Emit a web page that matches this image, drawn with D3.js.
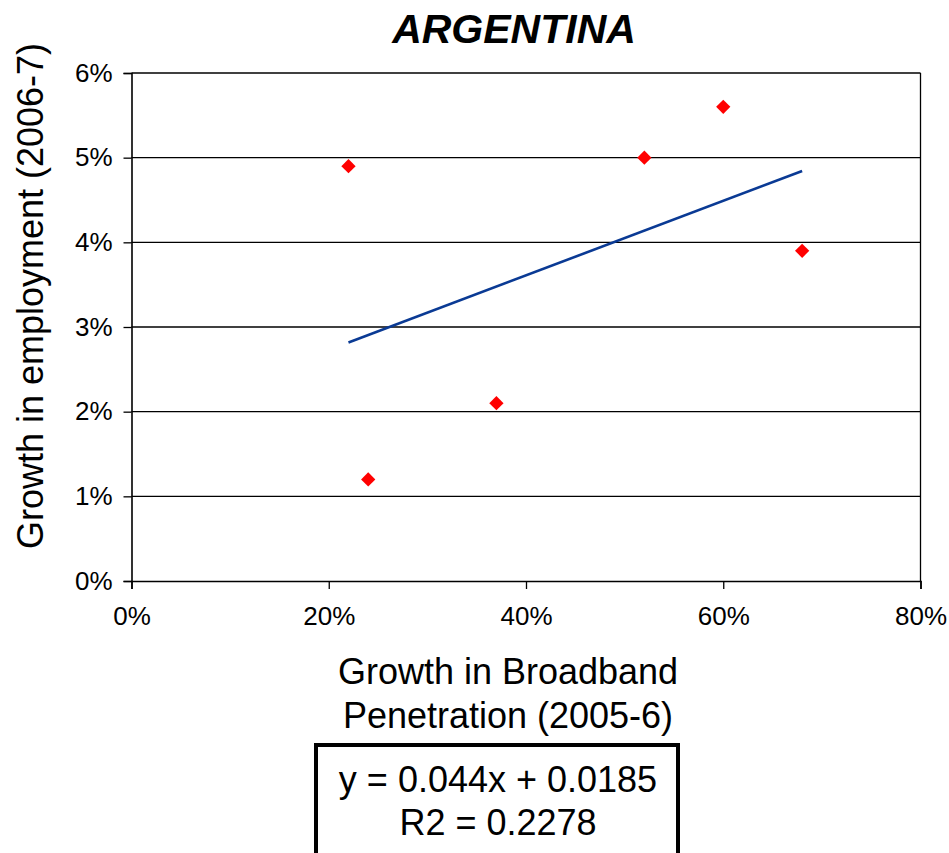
<!DOCTYPE html>
<html><head><meta charset="utf-8">
<script src="https://cdn.jsdelivr.net/npm/d3@7"></script>
<style>
html,body{margin:0;padding:0;background:#fff;}
svg{display:block;font-family:"Liberation Sans",Arial,sans-serif;}
</style></head>
<body>
<svg id="c" width="949" height="853"></svg>
<script>
const title = "ARGENTINA";
const xLabelLines = ["Growth in Broadband", "Penetration (2005-6)"];
const yLabel = "Growth in employment (2006-7)";
const broadband = [0.22, 0.24, 0.37, 0.52, 0.60, 0.68];
const employment = [0.049, 0.012, 0.021, 0.050, 0.056, 0.039];
const xTicks = [0, 0.2, 0.4, 0.6, 0.8];
const yTicks = [0, 0.01, 0.02, 0.03, 0.04, 0.05, 0.06];
const slope = 0.044, intercept = 0.0185;
const eqLines = ["y = 0.044x + 0.0185", "R2 = 0.2278"];

const svg = d3.select("#c");
const L = 131.5, R = 920.5, T = 73, B = 581;
const x = d3.scaleLinear().domain([0, 0.8]).range([L, R]);
const y = d3.scaleLinear().domain([0, 0.06]).range([B, T]);
const pct = d3.format(".0%");

// gridlines
svg.append("g").selectAll("line").data(yTicks.slice(1)).join("line")
  .attr("x1", L).attr("x2", R).attr("y1", d => y(d)).attr("y2", d => y(d))
  .attr("stroke", "#000").attr("stroke-width", 1.3);
// right border
svg.append("line").attr("x1", R).attr("x2", R).attr("y1", T).attr("y2", B)
  .attr("stroke", "#000").attr("stroke-width", 1.3);

// axes
const xAxis = svg.append("g").attr("transform", `translate(0,${B})`)
  .call(d3.axisBottom(x).tickValues(xTicks).tickFormat(pct).tickSize(8).tickPadding(18));
const yAxis = svg.append("g").attr("transform", `translate(${L},0)`)
  .call(d3.axisLeft(y).tickValues(yTicks).tickFormat(pct).tickSize(8).tickPadding(11));
[xAxis, yAxis].forEach(a => {
  a.select(".domain").attr("stroke", "#000").attr("stroke-width", 1.6);
  a.selectAll(".tick line").attr("stroke", "#000").attr("stroke-width", 1.3);
  a.selectAll("text").attr("font-size", 26).attr("fill", "#000")
    .attr("font-family", "Liberation Sans, Arial, sans-serif");
});
xAxis.selectAll("text").attr("dy", "0.71em");

// trendline
const xMin = d3.min(broadband), xMax = d3.max(broadband);
svg.append("line")
  .attr("x1", x(xMin)).attr("y1", y(slope * xMin + intercept))
  .attr("x2", x(xMax)).attr("y2", y(slope * xMax + intercept))
  .attr("stroke", "#0a3a94").attr("stroke-width", 2.6);

// points
const pts = broadband.map((b, i) => ({ b, e: employment[i] }));
svg.append("g").selectAll("path").data(pts).join("path")
  .attr("d", d3.symbol(d3.symbolDiamond2, 130))
  .attr("transform", d => `translate(${x(d.b)},${y(d.e)})`)
  .attr("fill", "#ff0000");

// title
svg.append("text").attr("x", 514).attr("y", 43).attr("text-anchor", "middle")
  .attr("font-size", 41).attr("font-weight", "bold").attr("font-style", "italic")
  .text(title);

// y label
svg.append("text").attr("transform", "translate(43,296) rotate(-90)")
  .attr("text-anchor", "middle").attr("font-size", 36).text(yLabel);

// x label
svg.append("g").selectAll("text").data(xLabelLines).join("text")
  .attr("x", 508).attr("y", (d, i) => 684 + i * 44)
  .attr("text-anchor", "middle").attr("font-size", 36).text(d => d);

// equation box
svg.append("rect").attr("x", 316).attr("y", 745).attr("width", 362).attr("height", 130)
  .attr("fill", "#fff").attr("stroke", "#000").attr("stroke-width", 4);
svg.append("g").selectAll("text").data(eqLines).join("text")
  .attr("x", 498).attr("y", (d, i) => 792 + i * 43)
  .attr("text-anchor", "middle").attr("font-size", 36).text(d => d);
</script>
</body></html>
